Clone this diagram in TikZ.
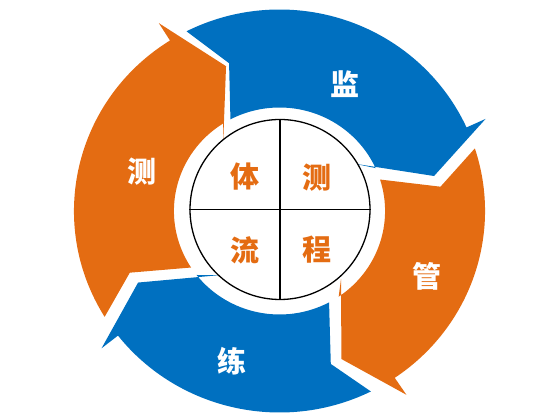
\documentclass[tikz,border=0pt]{standalone}
\usepackage{fontspec}
\newfontfamily\cjk{Noto Sans CJK SC}
\definecolor{cblue}{RGB}{0,112,192}
\definecolor{corange}{RGB}{228,108,18}
\def\Ro{201.5}
\def\Ri{103.5}
\def\Rb{222}
\begin{document}
\begin{tikzpicture}[x=1pt,y=1pt,
  lab/.style={font=\cjk\bfseries\fontsize{29}{29}\selectfont, text=white, inner sep=0pt},
  inlab/.style={lab, text=corange},
  ringline/.style={line width=1.3pt, draw=black}]
\useasboundingbox (0,0) rectangle (557,419);
\begin{scope}[shift={(279.5,208)}, xscale=1.02]
  % blue top: tail A, head B
  \fill[cblue] (116.9:\Ro) arc[start angle=116.9, end angle=24.5, radius=\Ro]
    -- (24.5:\Rb) -- (13:155.5) -- ++(171:80) -- (24.5:\Ri)
    arc[start angle=24.5, end angle=117.7, radius=\Ri] -- (108.5:155.8) -- cycle;
  % orange right: tail B, head C
  \fill[corange] (18.1:\Ro) arc[start angle=18.1, end angle=-55.9, radius=\Ro]
    -- (-55.9:\Rb) -- (-67.7:160) -- ++(90.3:80) -- (-55.9:\Ri)
    arc[start angle=-55.9, end angle=17.7, radius=\Ri] -- (8.75:159.7) -- cycle;
  % blue bottom: tail C, head D
  \fill[cblue] (-63.6:\Ro) arc[start angle=-63.6, end angle=-141.8, radius=\Ro]
    -- (-141.8:\Rb) -- (-152.7:156) -- ++(5.3:80) -- (-141.8:\Ri)
    arc[start angle=-141.8, end angle=-62, radius=\Ri] -- (-71.8:161) -- cycle;
  % orange left: tail D, head A
  \fill[corange] (-148.3:\Ro) arc[start angle=-148.3, end angle=-237.8, radius=\Ro]
    -- (-237.8:\Rb) -- (-250.1:154) -- ++(-92.1:80) -- (-237.8:\Ri)
    arc[start angle=-237.8, end angle=-146.9, radius=\Ri] -- (-157.2:159.2) -- cycle;
\end{scope}
\node[circle, minimum size=180pt, inner sep=0pt, fill=white, ringline] (hub) at (280,209.5) {};
\draw[ringline] (hub.north) -- (hub.south);
\draw[ringline] (hub.west) -- (hub.east);
\node[lab] (jian) at (345.3,335.3) {监};
\node[lab] (guan) at (426.7,142.3) {管};
\node[lab] (lian) at (231.7,57.3) {练};
\node[lab] (ce) at (141.7,247.3) {测};
\node[inlab] (ti) at (245,242.3) {体};
\node[inlab] (ce2) at (316.7,241.7) {测};
\node[inlab] (liu) at (245,169) {流};
\node[inlab] (cheng) at (316.7,169) {程};
\end{tikzpicture}
\end{document}
